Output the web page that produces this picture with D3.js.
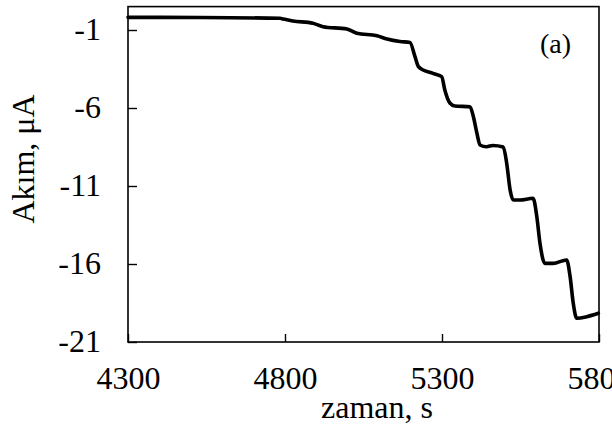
<!DOCTYPE html>
<html>
<head>
<meta charset="utf-8">
<script src="https://cdn.jsdelivr.net/npm/d3@7/dist/d3.min.js"></script>
<style>
  html, body { margin: 0; padding: 0; background: #fff; }
  svg { display: block; }
  text { font-family: "Liberation Serif", "Times New Roman", serif; fill: #000; }
</style>
</head>
<body>
<svg id="chart" width="612" height="432"></svg>
<script>
// Current vs. time measurement
const timeS = [4300, 4529, 4784, 4794, 4825, 4889, 4921, 4997, 5029, 5093, 5125, 5166, 5198,
  5214, 5225, 5240, 5271, 5299, 5309, 5325, 5341, 5389, 5400, 5411, 5421, 5442, 5462, 5495,
  5506, 5517, 5527, 5548, 5590, 5602, 5612, 5628, 5654, 5697, 5708, 5718, 5729, 5761, 5798];
const currentUA = [-0.19, -0.20, -0.25, -0.29, -0.42, -0.57, -0.79, -0.94, -1.21, -1.37, -1.58, -1.74, -1.80,
  -2.71, -3.35, -3.56, -3.78, -3.99, -4.85, -5.68, -5.87, -5.92, -6.56, -7.60, -8.37, -8.48, -8.40, -8.50,
  -9.54, -11.26, -11.90, -11.90, -11.79, -12.97, -14.67, -15.96, -15.96, -15.74, -16.81, -18.52, -19.48, -19.38, -19.16];
const xTicks = [4300, 4800, 5300, 5800];
const yTicks = [-1, -6, -11, -16, -21];

const svg = d3.select("#chart");
const plotLeft = 128, plotRight = 599, plotTop = 6.6, plotBottom = 342;

const x = d3.scaleLinear().domain([4300, 5800]).range([plotLeft, plotRight]);
const y = d3.scaleLinear().domain([-21, 0.5]).range([plotBottom, plotTop]);

// plain integer labels with an ASCII hyphen for negatives
const plain = d => String(d);

// plot frame
svg.append("rect")
  .attr("x", plotLeft).attr("y", plotTop)
  .attr("width", plotRight - plotLeft).attr("height", plotBottom - plotTop)
  .attr("fill", "none").attr("stroke", "#000").attr("stroke-width", 1.6);

// x axis: inward ticks
const xAxis = svg.append("g")
  .attr("transform", `translate(0,${plotBottom})`)
  .call(d3.axisBottom(x).tickValues(xTicks).tickFormat(plain).tickSizeInner(-8).tickSizeOuter(0));
xAxis.select(".domain").remove();
xAxis.selectAll(".tick line").attr("stroke", "#000").attr("stroke-width", 1.4);
xAxis.selectAll(".tick text")
  .attr("font-size", 32)
  .attr("dy", null).attr("y", 47);

// y axis: inward ticks
const yAxis = svg.append("g")
  .attr("transform", `translate(${plotLeft},0)`)
  .call(d3.axisLeft(y).tickValues(yTicks).tickFormat(plain).tickSizeInner(-9).tickSizeOuter(0).tickPadding(27));
yAxis.select(".domain").remove();
yAxis.selectAll(".tick line").attr("stroke", "#000").attr("stroke-width", 1.4);
yAxis.selectAll(".tick text")
  .attr("font-size", 32)
  .attr("dy", null).attr("y", 9);

// axis titles
svg.append("text")
  .attr("x", 377).attr("y", 418)
  .attr("text-anchor", "middle").attr("font-size", 32)
  .text("zaman, s");

svg.append("text")
  .attr("transform", "translate(34,159) rotate(-90)")
  .attr("text-anchor", "middle").attr("font-size", 32)
  .text("Akım, μA");

// panel label
svg.append("text")
  .attr("x", 540).attr("y", 53)
  .attr("font-size", 28)
  .text("(a)");

// current trace
const line = d3.line()
  .x((d, i) => x(timeS[i]))
  .y(d => y(d))
  .curve(d3.curveMonotoneX);

svg.append("path")
  .datum(currentUA)
  .attr("d", line)
  .attr("fill", "none")
  .attr("stroke", "#000")
  .attr("stroke-width", 3.6)
  .attr("stroke-linejoin", "round")
  .attr("stroke-linecap", "round");
</script>
</body>
</html>
